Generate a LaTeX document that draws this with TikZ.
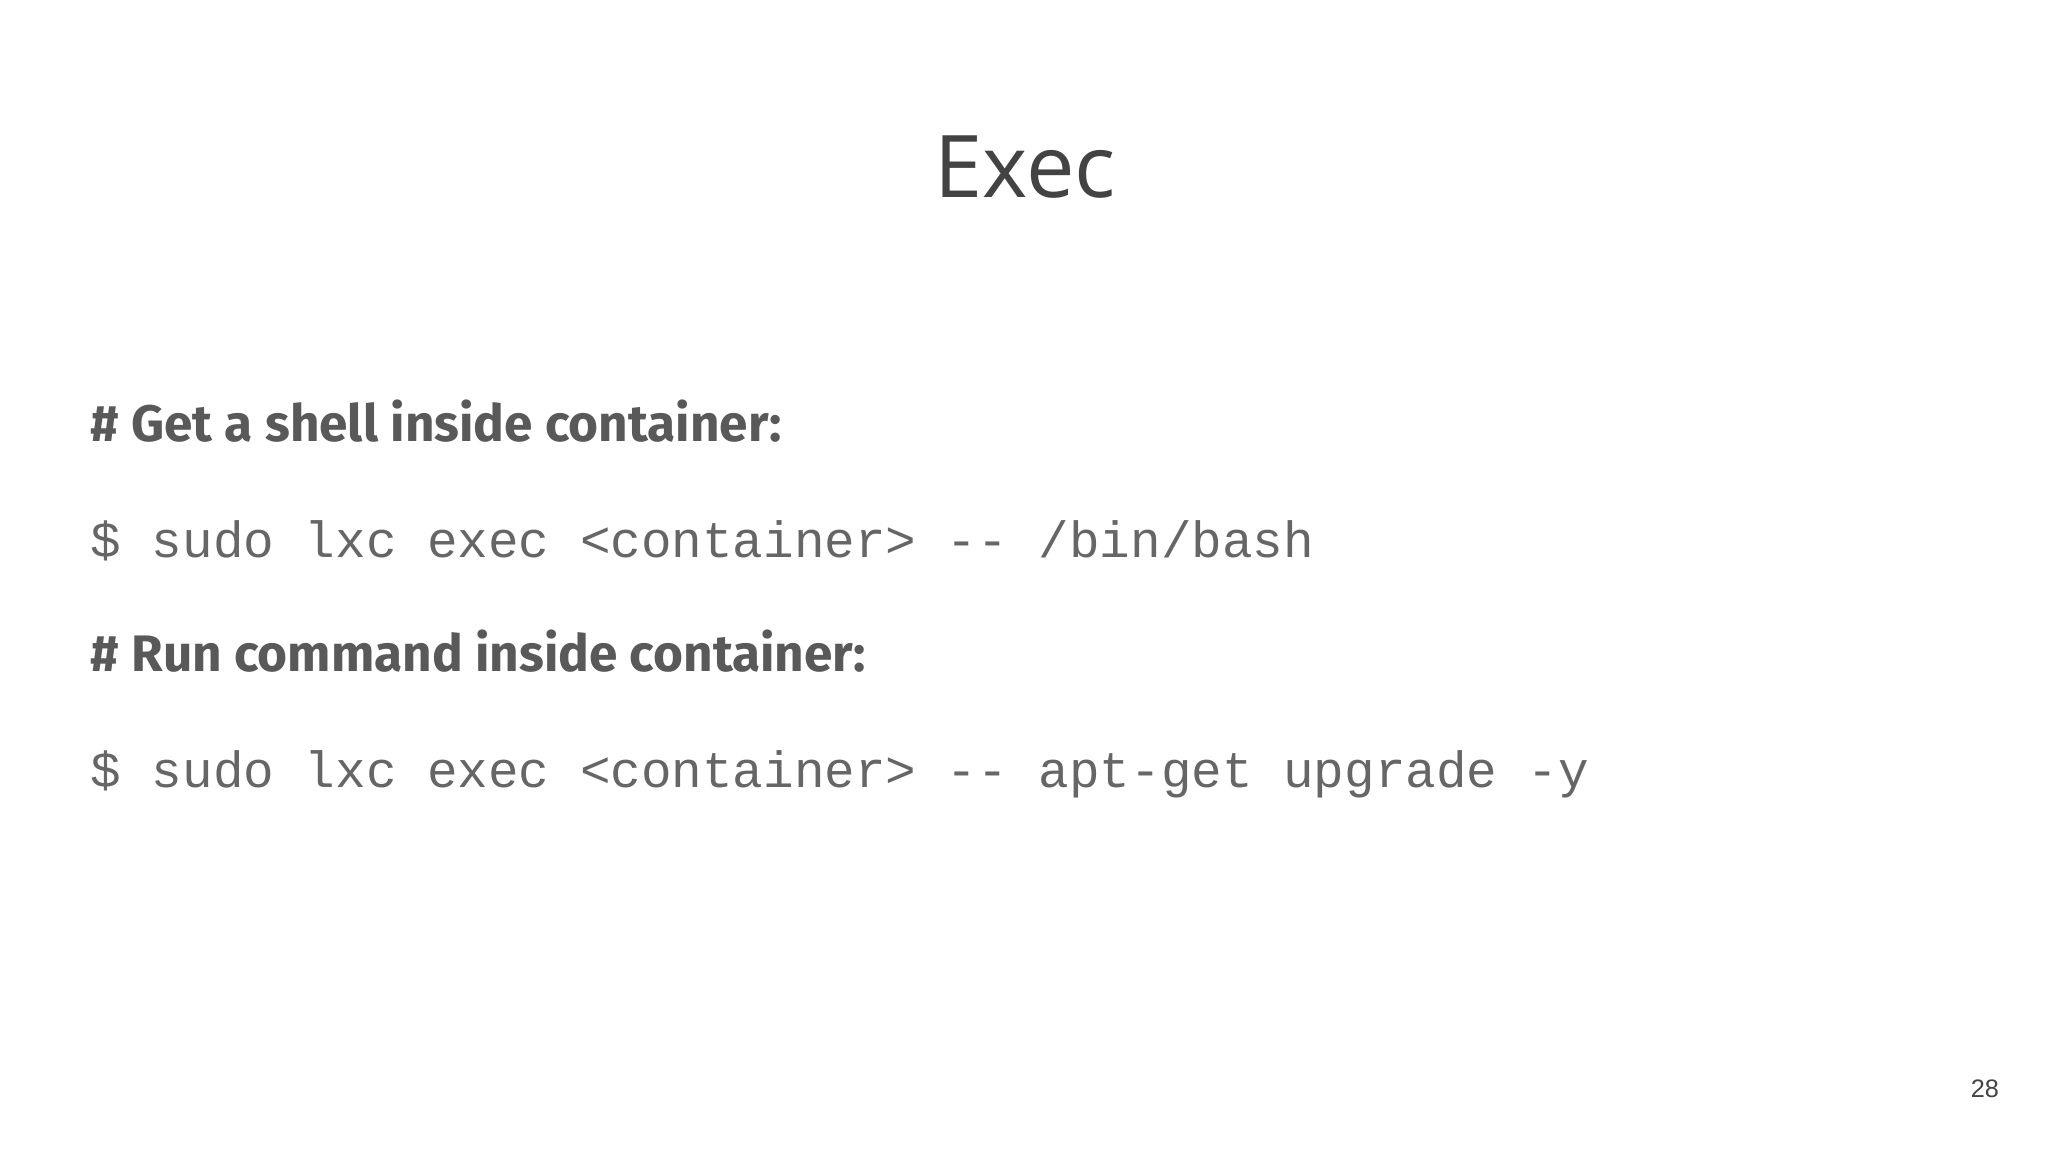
\documentclass[tikz,border=0pt]{standalone}
\usepackage{fontspec}
\setmainfont{Open Sans}
\newfontfamily\headfont{Fira Sans}
\newfontfamily\codefont{Liberation Mono}
\newfontfamily\numfont{Liberation Sans}
\definecolor{titlec}{HTML}{434343}
\definecolor{headc}{HTML}{595959}
\definecolor{codec}{HTML}{666666}
\begin{document}
\begin{tikzpicture}[x=0.013061cm,y=-0.013061cm,
  head/.style={anchor=base west,inner sep=0,text=headc,font=\headfont\fontsize{14.6pt}{16pt}\selectfont\bfseries},
  code/.style={anchor=base west,inner sep=0,text=codec,font=\codefont\fontsize{14.5pt}{16pt}\selectfont}]
\useasboundingbox[fill=white] (0,0) rectangle (1568,882);
\node[anchor=base,inner sep=0,text=titlec,font=\fontsize{24.6pt}{28pt}\selectfont] (title) at (785,151) {Exec};
\node[head] (h1) at (69,338) {\# Get a shell inside container:};
\node[code] (c1) at (69,427) {\$ sudo lxc exec <container> -- /bin/bash};
\node[head] (h2) at (69,514) {\# Run command inside container:};
\node[code] (c2) at (69,603) {\$ sudo lxc exec <container> -- apt-get upgrade -y};
\node[anchor=base east,inner sep=0,text=titlec,font=\numfont\fontsize{7.2pt}{9pt}\selectfont] (pg) at (1531,840) {28};
\end{tikzpicture}
\end{document}
